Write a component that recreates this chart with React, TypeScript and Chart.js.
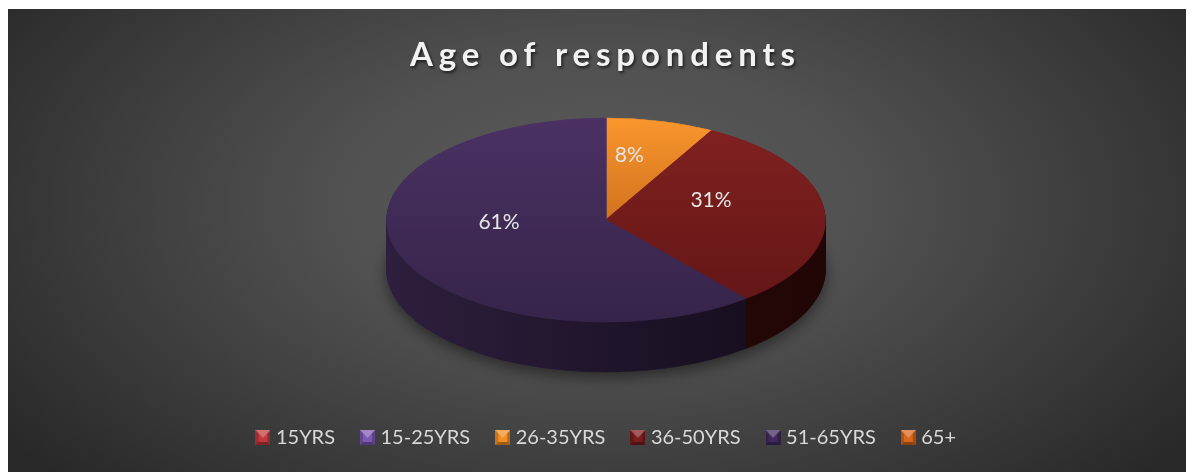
import React, { useEffect, useRef } from 'react';
import { Chart, registerables } from 'chart.js';

Chart.register(...registerables);

// ---- data ----
const categories = ['15YRS', '15-25YRS', '26-35YRS', '36-50YRS', '51-65YRS', '65+'];
const shares = [0, 0, 8, 31, 61, 0];
const titleText = 'Age of respondents';

// ---- palette ----
const legendColors = ['#c0383b', '#7d58b3', '#f08e22', '#7a1d1d', '#3f2a5b', '#d8661b'];
const topStart = ['#d84a4c', '#8e67c5', '#fa962d', '#822121', '#4a3162', '#e8701f'];
const topEnd = ['#a82e30', '#6a4a9a', '#a84f10', '#611515', '#36244a', '#b8540f'];
const sideStart = ['#4a1010', '#2e2040', '#6a3008', '#2e0c0a', '#2d1f3d', '#5a2608'];
const sideEnd = ['#1f0605', '#140d1c', '#3a1804', '#200605', '#120b19', '#301404'];

// ---- geometry (canvas px) ----
const W = 1187;
const H = 463;
const CX = 599;
const CY = 211;
const RX = 219;
const RY = 102;
const DEPTH = 50;

function makeIcon(color: string) {
  const c = document.createElement('canvas');
  c.width = 15;
  c.height = 15;
  const g = c.getContext('2d')!;
  const poly = (pts: number[][], fill: string) => {
    g.beginPath();
    g.moveTo(pts[0][0], pts[0][1]);
    for (let i = 1; i < pts.length; i++) g.lineTo(pts[i][0], pts[i][1]);
    g.closePath();
    g.fillStyle = fill;
    g.fill();
  };
  g.fillStyle = color;
  g.fillRect(0, 0, 15, 15);
  poly([[0, 0], [3, 3], [3, 12], [0, 15]], 'rgba(0,0,0,0.18)');
  poly([[15, 0], [12, 3], [12, 12], [15, 15]], 'rgba(0,0,0,0.25)');
  poly([[0, 15], [3, 12], [12, 12], [15, 15]], 'rgba(0,0,0,0.35)');
  poly([[0, 0], [15, 0], [7.5, 8]], 'rgba(255,255,255,0.28)');
  return c;
}

function drawWith(ctx: CanvasRenderingContext2D, el: any, fill: any) {
  const saved = el.options;
  el.options = Object.assign({}, saved, { backgroundColor: fill, borderColor: fill, borderWidth: 1 });
  el.draw(ctx);
  el.options = saved;
}

const pie3d = {
  id: 'pie3d',
  beforeDatasetsDraw(chart: any) {
    const ctx: CanvasRenderingContext2D = chart.ctx;
    const arcs = chart.getDatasetMeta(0).data;
    if (!arcs.length) return false;
    const ax = arcs[0].x;
    const ay = arcs[0].y;
    const R = arcs[0].outerRadius;
    const sx = RX / R;
    const sy = RY / R;
    const place = (dy: number) => {
      ctx.translate(CX, CY + dy);
      ctx.scale(sx, sy);
      ctx.translate(-ax, -ay);
    };
    // side walls
    for (let dy = DEPTH; dy >= 1; dy--) {
      arcs.forEach((el: any, i: number) => {
        if (!shares[i]) return;
        ctx.save();
        place(dy);
        if (dy === DEPTH) {
          ctx.shadowColor = 'rgba(0,0,0,0.45)';
          ctx.shadowBlur = 14;
          ctx.shadowOffsetY = 5;
        }
        const g = ctx.createLinearGradient(ax - R, 0, ax + R, 0);
        g.addColorStop(0, sideStart[i]);
        g.addColorStop(1, sideEnd[i]);
        drawWith(ctx, el, g);
        ctx.restore();
      });
    }
    // top faces
    arcs.forEach((el: any, i: number) => {
      if (!shares[i]) return;
      ctx.save();
      place(0);
      const g = ctx.createLinearGradient(0, ay - R, 0, ay + R);
      g.addColorStop(0, topStart[i]);
      g.addColorStop(1, topEnd[i]);
      drawWith(ctx, el, g);
      ctx.restore();
    });
    // labels
    const total = shares.reduce((a, b) => a + b, 0);
    ctx.save();
    ctx.font = '21px Lato';
    ctx.fillStyle = '#e6e6e6';
    ctx.textAlign = 'center';
    ctx.textBaseline = 'middle';
    arcs.forEach((el: any, i: number) => {
      if (!shares[i]) return;
      const p = el.tooltipPosition(false);
      const x = CX + (p.x - ax) * sx - 4;
      const y = CY + (p.y - ay) * sy - 15;
      ctx.fillText(Math.round((shares[i] / total) * 100) + '%', x, y);
    });
    ctx.restore();
    return false;
  },
  afterDraw(chart: any) {
    const ctx: any = chart.ctx;
    ctx.save();
    ctx.font = 'bold 33px Lato';
    ctx.letterSpacing = '0px';
    const w0 = ctx.measureText(titleText).width;
    const ls = (385 - w0) / (titleText.length - 1);
    ctx.letterSpacing = ls + 'px';
    ctx.textAlign = 'left';
    ctx.textBaseline = 'alphabetic';
    ctx.shadowColor = 'rgba(0,0,0,0.6)';
    ctx.shadowBlur = 3;
    ctx.shadowOffsetX = 1.5;
    ctx.shadowOffsetY = 2;
    ctx.fillStyle = '#f2f2f2';
    ctx.fillText(titleText, 403, 57);
    ctx.restore();
  },
};

export default function App() {
  const ref = useRef<HTMLCanvasElement | null>(null);
  useEffect(() => {
    if (!ref.current) return;
    const icons = legendColors.map(makeIcon);
    const chart = new Chart(ref.current, {
      type: 'pie',
      data: {
        labels: categories,
        datasets: [{ data: shares, backgroundColor: topStart, borderWidth: 0 }],
      },
      options: {
        responsive: false,
        animation: false,
        events: [],
        layout: { padding: { left: 15, bottom: 14.5, top: 80 } },
        plugins: {
          title: { display: false },
          tooltip: { enabled: false },
          legend: {
            position: 'bottom',
            labels: {
              usePointStyle: true,
              pointStyleWidth: 6,
              padding: 29.5,
              color: '#d9d9d9',
              font: { family: 'Lato', size: 20 },
              generateLabels: () =>
                categories.map((t, i) => ({
                  text: t,
                  fillStyle: legendColors[i],
                  strokeStyle: legendColors[i],
                  lineWidth: 0,
                  pointStyle: icons[i],
                  hidden: false,
                  index: i,
                  fontColor: '#d9d9d9',
                })),
            },
          },
        },
      } as any,
      plugins: [pie3d as any],
    });
    return () => chart.destroy();
  }, []);
  return (
    <div
      style={{
        width: W,
        height: H,
        marginLeft: -1,
        marginTop: 1,
        background:
          'radial-gradient(ellipse 62% 88% at 50% 42%, #5a5a5a 0%, #515151 35%, #3a3a3a 72%, #282828 100%)',
      }}
    >
      <canvas ref={ref} width={W} height={H} style={{ display: 'block' }} />
    </div>
  );
}
